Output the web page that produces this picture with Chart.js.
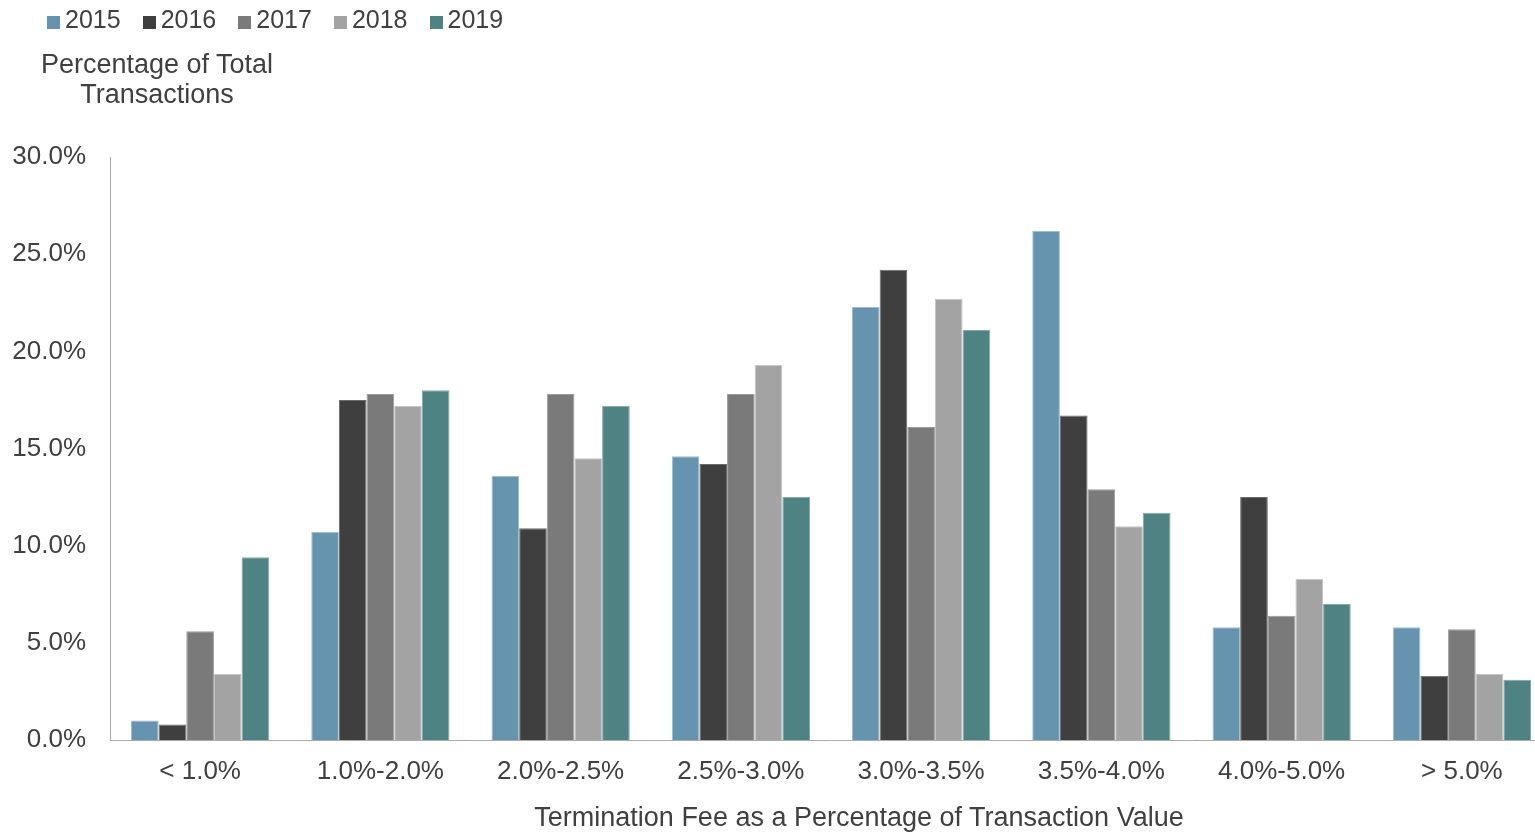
<!DOCTYPE html>
<html>
<head>
<meta charset="utf-8">
<script src="https://cdn.jsdelivr.net/npm/chart.js@4.4.0/dist/chart.umd.min.js"></script>
<style>
  html, body { margin: 0; padding: 0; background: #fff; overflow: hidden; }
  #wrap { position: relative; width: 1552px; height: 832px; }
  #legend { position: absolute; left: 47px; top: 4px; font: 25px "Liberation Sans", Arial, sans-serif; color: #404040; white-space: nowrap; line-height: 30px; }
  #legend span.item { display: inline-block; margin-right: 22px; }
  #legend span.box { display: inline-block; width: 13px; height: 13px; margin-right: 5px; vertical-align: -1px; }
  #ytitle { position: absolute; left: 7px; top: 49px; width: 300px; text-align: center; font: 27px "Liberation Sans", Arial, sans-serif; color: #404040; line-height: 30px; }
  #xtitle { position: absolute; left: 259px; top: 801px; width: 1200px; text-align: center; font: 27px "Liberation Sans", Arial, sans-serif; color: #404040; line-height: 32px; white-space: nowrap; }
</style>
</head>
<body>
<div id="wrap">
  <canvas id="myChart" width="1552" height="832"></canvas>
  <div id="legend"></div>
  <div id="ytitle">Percentage of Total<br>Transactions</div>
  <div id="xtitle"></div>
</div>
<script>
// Data
const categories = ['< 1.0%', '1.0%-2.0%', '2.0%-2.5%', '2.5%-3.0%', '3.0%-3.5%', '3.5%-4.0%', '4.0%-5.0%', '> 5.0%'];
const years = ['2015', '2016', '2017', '2018', '2019'];
const v2015 = [1.0, 10.7, 13.6, 14.6, 22.3, 26.2, 5.8, 5.8];
const v2016 = [0.8, 17.5, 10.9, 14.2, 24.2, 16.7, 12.5, 3.3];
const v2017 = [5.6, 17.8, 17.8, 17.8, 16.1, 12.9, 6.4, 5.7];
const v2018 = [3.4, 17.2, 14.5, 19.3, 22.7, 11.0, 8.3, 3.4];
const v2019 = [9.4, 18.0, 17.2, 12.5, 21.1, 11.7, 7.0, 3.1];
const yTicks = [0, 5, 10, 15, 20, 25, 30];
const xTitle = 'Termination Fee as a Percentage of Transaction Value';

const colors = ['#6694AF', '#3F3F3F', '#7A7A7A', '#A3A3A3', '#4F8282'];
const edges = ['#9FBCCD', '#6A6A6A', '#9A9A9A', '#C4C4C4', '#86A8A8'];

const series = [v2015, v2016, v2017, v2018, v2019];
const txt = '#404040';
const axisCol = '#A9A9A9';
const fam = '"Liberation Sans", Arial, sans-serif';

const ctx = document.getElementById('myChart');

const chart = new Chart(ctx, {
  type: 'bar',
  data: {
    labels: categories,
    datasets: series.map((d, i) => ({
      label: years[i],
      data: d,
      backgroundColor: colors[i],
      borderColor: edges[i],
      borderWidth: 1,
      categoryPercentage: 0.767,
      barPercentage: 1.0
    }))
  },
  options: {
    responsive: false,
    animation: false,
    devicePixelRatio: 1,
    layout: { padding: { top: 157, left: 0, right: 0, bottom: 0 } },
    plugins: {
      legend: { display: false },
      tooltip: { enabled: false }
    },
    scales: {
      x: {
        grid: { display: false, drawTicks: false },
        border: { display: true, color: axisCol, width: 1 },
        ticks: { color: txt, font: { family: fam, size: 26 }, padding: 16, maxRotation: 0 },
        afterFit: (scale) => { scale.height = 92; }
      },
      y: {
        min: 0,
        max: 30,
        grid: { display: false, drawTicks: false },
        border: { display: true, color: axisCol, width: 1 },
        afterBuildTicks: (scale) => { scale.ticks = yTicks.map(v => ({ value: v })); },
        ticks: {
          color: txt,
          font: { family: fam, size: 26 },
          padding: 24,
          callback: (v) => v.toFixed(1) + '%'
        },
        afterFit: (scale) => { scale.width = 110; }
      }
    }
  }
});

document.getElementById('xtitle').textContent = xTitle;

// legend built from the chart's datasets
const legend = document.getElementById('legend');
chart.data.datasets.forEach(ds => {
  const item = document.createElement('span');
  item.className = 'item';
  const box = document.createElement('span');
  box.className = 'box';
  box.style.background = ds.backgroundColor;
  item.appendChild(box);
  item.appendChild(document.createTextNode(ds.label));
  legend.appendChild(item);
});
</script>
</body>
</html>
